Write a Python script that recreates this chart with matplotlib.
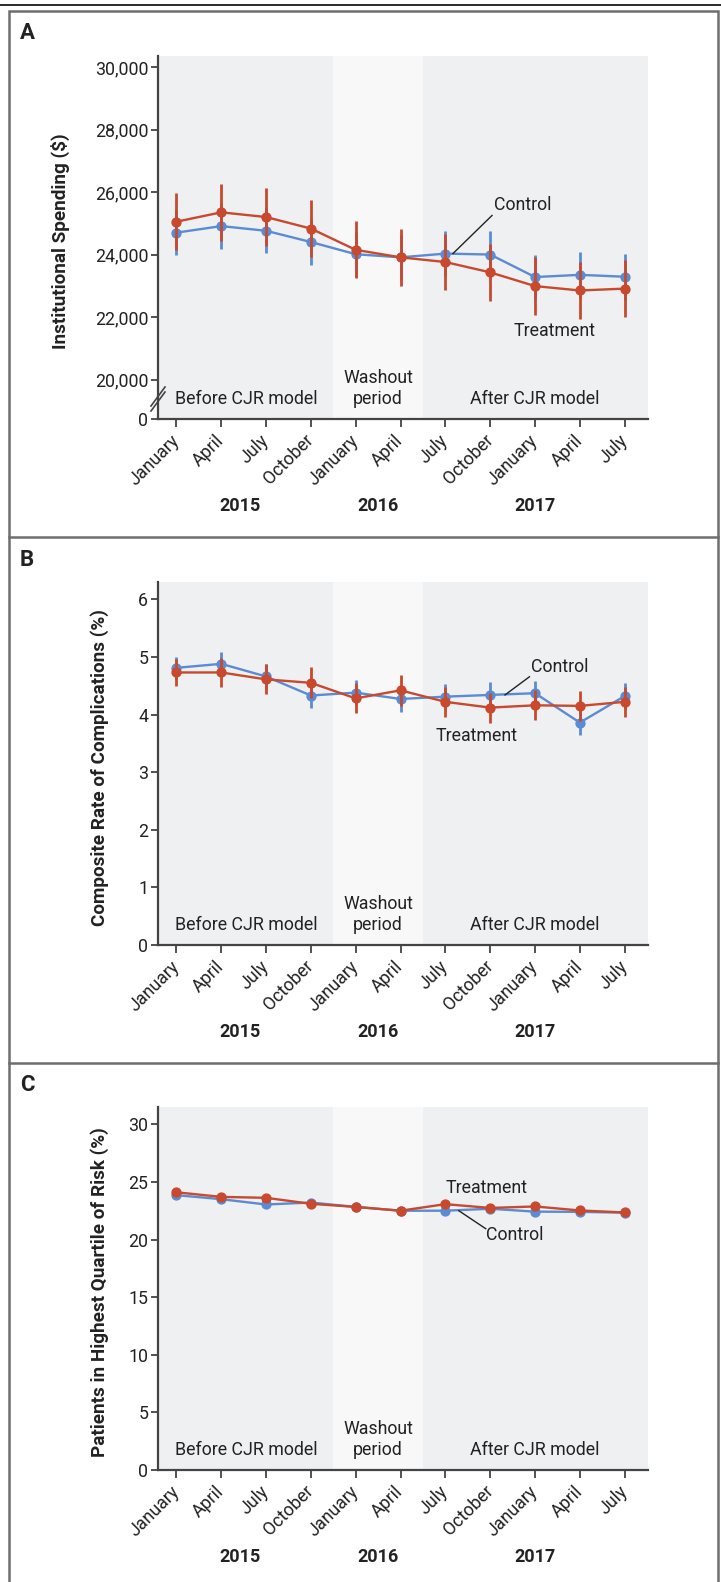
import matplotlib
matplotlib.use("Agg")
import matplotlib.pyplot as plt
from matplotlib.lines import Line2D
from matplotlib.patches import Rectangle
import matplotlib.transforms as mtrans

plt.rcParams['font.family'] = ['Roboto', 'DejaVu Sans']

# ---------------- data ----------------
months = ["January", "April", "July", "October", "January", "April",
          "July", "October", "January", "April", "July"]
years = ["2015", "2016", "2017"]
year_pos = [1.42, 4.5, 8.0]
periods = ["Before CJR model", "Washout\nperiod", "After CJR model"]
period_pos = [1.55, 4.5, 8.0]

spend_treat = [25050, 25350, 25200, 24830, 24150, 23910, 23760, 23430, 22990, 22850, 22910]
spend_treat_err = [920, 920, 930, 920, 910, 920, 900, 920, 930, 920, 920]
spend_ctrl = [24700, 24910, 24760, 24400, 24010, 23910, 24030, 24000, 23280, 23350, 23290]
spend_ctrl_err = [720, 730, 720, 730, 720, 720, 720, 740, 710, 740, 730]

comp_treat = [4.73, 4.73, 4.61, 4.55, 4.28, 4.42, 4.22, 4.12, 4.16, 4.15, 4.22]
comp_treat_err = [0.24, 0.25, 0.26, 0.27, 0.26, 0.27, 0.26, 0.26, 0.26, 0.26, 0.26]
comp_ctrl = [4.81, 4.88, 4.66, 4.33, 4.38, 4.27, 4.31, 4.34, 4.37, 3.86, 4.32]
comp_ctrl_err = [0.19, 0.20, 0.21, 0.22, 0.22, 0.22, 0.22, 0.22, 0.22, 0.22, 0.22]

risk_treat = [24.10, 23.70, 23.62, 23.10, 22.83, 22.50, 23.07, 22.74, 22.87, 22.52, 22.35]
risk_treat_err = [0.15] * 11
risk_ctrl = [23.85, 23.50, 23.04, 23.21, 22.83, 22.50, 22.50, 22.67, 22.42, 22.40, 22.33]
risk_ctrl_err = [0.12] * 11

spend_ticks = [20000, 22000, 24000, 26000, 28000, 30000]
comp_ticks = [0, 1, 2, 3, 4, 5, 6]
risk_ticks = [0, 5, 10, 15, 20, 25, 30]

# ---------------- style ----------------
RED = "#c8492d"
BLUE = "#5a8bd3"
GRAY_BG = "#eff0f2"
WASH_BG = "#f8f8f8"
AX_COL = "#444444"
TXT = "#222222"
W, H = 721, 1582
FS = 12.8      # tick / annotation text
FS_LAB = 13.6  # axis titles

fig = plt.figure(figsize=(W / 100, H / 100), dpi=100)


def add_axes_px(left, top, right, bottom):
    return fig.add_axes([left / W, 1 - bottom / H, (right - left) / W, (bottom - top) / H])


def style_axes(ax, ylabel, ylab_x):
    x = list(range(len(months)))
    ax.set_xlim(-0.41, 10.52)
    ax.axvspan(-0.41, 3.5, color=GRAY_BG, lw=0, zorder=0)
    ax.axvspan(3.5, 5.5, color=WASH_BG, lw=0, zorder=0)
    ax.axvspan(5.5, 10.52, color=GRAY_BG, lw=0, zorder=0)
    for s in ["top", "right"]:
        ax.spines[s].set_visible(False)
    for s in ["left", "bottom"]:
        ax.spines[s].set_color(AX_COL)
        ax.spines[s].set_linewidth(1.6)
    ax.set_xticks(x)
    ax.set_xticklabels(months, rotation=45, ha="right", va="center",
                       rotation_mode="anchor", fontsize=FS, color=TXT)
    ax.tick_params(axis="x", length=5.5, width=1.3, color=AX_COL, pad=8)
    ax.tick_params(axis="y", length=5, width=1.3, color=AX_COL, pad=2,
                   labelsize=FS, labelcolor=TXT)
    ax.set_facecolor("white")
    tr = mtrans.blended_transform_factory(ax.transData, ax.transAxes)
    for lab, xp in zip(periods, period_pos):
        ax.annotate(lab, xy=(xp, 0), xycoords=tr, xytext=(0, 14.5 if "\n" not in lab else 22),
                    textcoords="offset points", ha="center", va="center",
                    fontsize=FS, color=TXT, linespacing=1.2, zorder=5)
    for lab, xp in zip(years, year_pos):
        ax.annotate(lab, xy=(xp, 0), xycoords=tr, xytext=(0, -62.5),
                    textcoords="offset points", ha="center", va="center",
                    fontsize=13, fontweight="bold", color=TXT, annotation_clip=False)
    ax.text(ylab_x, 0.49, ylabel, transform=ax.transAxes, rotation=90,
            ha="center", va="center", fontsize=FS_LAB, fontweight="bold", color=TXT)


def draw_series(ax, ctrl, ctrl_err, treat, treat_err):
    x = list(range(len(months)))
    ax.errorbar(x, ctrl, yerr=ctrl_err, color=BLUE, marker="o", ms=6.4, lw=1.7,
                elinewidth=2.0, capsize=0, zorder=3)
    ax.errorbar(x, treat, yerr=treat_err, color=RED, marker="o", ms=6.4, lw=1.7,
                elinewidth=2.0, capsize=0, zorder=4)


# ---------------- Panel A ----------------
axA = add_axes_px(158, 56, 648, 419)
style_axes(axA, "Institutional Spending ($)", -0.2)
y0 = 18738
axA.set_ylim(y0, 30352)
axA.set_yticks([y0] + spend_ticks)
axA.set_yticklabels(["0"] + [f"{v:,}" for v in spend_ticks])
draw_series(axA, spend_ctrl, spend_ctrl_err, spend_treat, spend_treat_err)
axA.plot([6.17, 7.04], [24032, 25249], color=TXT, lw=1.0, zorder=6)
axA.text(7.08, 25585, "Control", fontsize=FS, color=TXT, ha="left", va="center")
axA.text(7.51, 21566, "Treatment", fontsize=FS, color=TXT, ha="left", va="center")

# axis break marks
for dy in (-2.5, 2.5):
    cx, cy = 158, 399 + dy
    fig.add_artist(Line2D([(cx - 7) / W, (cx + 7) / W],
                          [1 - (cy + 9.5) / H, 1 - (cy - 9.5) / H],
                          color=AX_COL, lw=1.2, transform=fig.transFigure))

# ---------------- Panel B ----------------
axB = add_axes_px(158, 582, 648, 945)
style_axes(axB, "Composite Rate of Complications (%)", -0.12)
axB.set_ylim(0, 6.3)
axB.set_yticks(comp_ticks)
axB.set_yticklabels([str(v) for v in comp_ticks])
draw_series(axB, comp_ctrl, comp_ctrl_err, comp_treat, comp_treat_err)
axB.plot([7.33, 7.875], [4.34, 4.655], color=TXT, lw=1.0, zorder=6)
axB.text(7.9, 4.83, "Control", fontsize=FS, color=TXT, ha="left", va="center")
axB.text(5.77, 3.625, "Treatment", fontsize=FS, color=TXT, ha="left", va="center")

# ---------------- Panel C ----------------
axC = add_axes_px(158, 1107, 648, 1470)
style_axes(axC, "Patients in Highest Quartile of Risk (%)", -0.12)
axC.set_ylim(0, 31.5)
axC.set_yticks(risk_ticks)
axC.set_yticklabels([str(v) for v in risk_ticks])
draw_series(axC, risk_ctrl, risk_ctrl_err, risk_treat, risk_treat_err)
axC.plot([6.30, 6.90], [22.5, 20.94], color=TXT, lw=1.0, zorder=6)
axC.text(6.01, 24.5, "Treatment", fontsize=FS, color=TXT, ha="left", va="center")
axC.text(6.9, 20.42, "Control", fontsize=FS, color=TXT, ha="left", va="center")

# ---------------- frame / letters ----------------
fig.add_artist(Line2D([0, 1], [1 - 4.5 / H, 1 - 4.5 / H], color="#1a1a1a", lw=1.3,
                      transform=fig.transFigure))
frame_col = "#6e6e6e"
fig.add_artist(Rectangle((8.5 / W, -0.01), (717.5 - 8.5) / W, 1.01 - 11 / H,
                         fill=False, edgecolor=frame_col, lw=1.8, transform=fig.transFigure))
for yy in (537.3, 1063):
    fig.add_artist(Line2D([8.5 / W, 717.5 / W], [1 - yy / H, 1 - yy / H],
                          color=frame_col, lw=1.8, transform=fig.transFigure))
for lab, yy in (("A", 33), ("B", 560), ("C", 1085)):
    fig.text(27 / W, 1 - yy / H, lab, ha="center", va="center", fontsize=16,
             fontweight="bold", color=TXT)

fig.savefig("out.png", dpi=100, facecolor="white")
